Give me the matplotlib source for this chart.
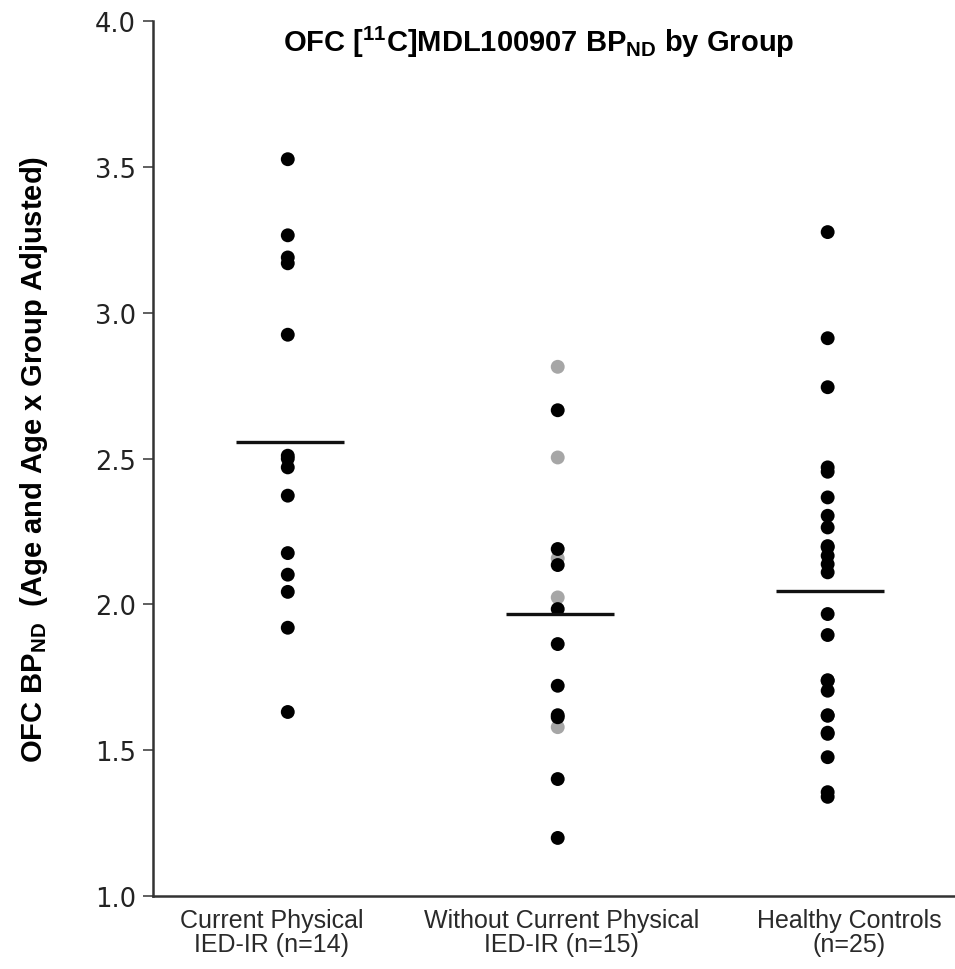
import matplotlib
matplotlib.use("Agg")
import matplotlib.pyplot as plt
import numpy as np

plt.rcParams['font.family'] = ['Liberation Sans', 'DejaVu Sans']
plt.rcParams['mathtext.fontset'] = 'custom'
plt.rcParams['mathtext.rm'] = 'Liberation Sans'
plt.rcParams['mathtext.bf'] = 'Liberation Sans:bold'

groups = ["Current Physical\nIED-IR (n=14)",
          "Without Current Physical\nIED-IR (n=15)",
          "Healthy Controls\n(n=25)"]

g1_black = [3.527, 3.266, 3.19, 3.17, 2.925, 2.51, 2.50, 2.47, 2.373, 2.176,
            2.102, 2.043, 1.920, 1.631]
g1_gray = []
g2_black = [2.666, 2.190, 2.135, 1.984, 1.864, 1.721, 1.613, 1.62, 1.401, 1.199]
g2_gray = [2.815, 2.504, 2.158, 2.024, 1.579]
g3_black = [3.277, 2.913, 2.745, 2.47, 2.455, 2.367, 2.304, 2.264, 2.196, 2.20,
            2.167, 2.138, 2.110, 1.967, 1.895, 1.738, 1.74, 1.704, 1.618, 1.62,
            1.556, 1.56, 1.476, 1.356, 1.340]
g3_gray = []

group_means = [2.558, 1.966, 2.047]

yticks = [1.0, 1.5, 2.0, 2.5, 3.0, 3.5, 4.0]

black_sets = [g1_black, g2_black, g3_black]
gray_sets = [g1_gray, g2_gray, g3_gray]

fig = plt.figure(figsize=(9.55, 9.70), dpi=100)
ax = fig.add_axes([0.160, 0.0753, 0.848, 0.9017])

for i, (gs, bs) in enumerate(zip(gray_sets, black_sets)):
    if gs:
        ax.scatter(np.full(len(gs), i), gs, s=100, color='#a6a6a6',
                   edgecolors='none', zorder=3)
    ax.scatter(np.full(len(bs), i), bs, s=100, color='black',
               edgecolors='none', zorder=4)
    ax.hlines(group_means[i], i - 0.19, i + 0.21, color='#111111',
              linewidth=2.4, zorder=5)

ax.set_xlim(-0.5, 2.5)
ax.set_ylim(1.0, 4.0)
ax.set_yticks(yticks)
ax.set_yticklabels([f"{t:.1f}" for t in yticks], fontsize=18.5, family='DejaVu Sans',
                   color='#222222')
# category labels (invisible ticks), slightly spread as in the original layout
label_offsets = [-0.06, 0.015, 0.08]
ax.set_xticks([i + o for i, o in enumerate(label_offsets)])
ax.set_xticklabels(groups, fontsize=18, color='#2a2a2a', linespacing=0.95)
ax.tick_params(axis='x', length=0, pad=9)
ax.tick_params(axis='y', length=7, width=1.2, color='#444444', pad=5)

for s in ['top', 'right']:
    ax.spines[s].set_visible(False)
for s in ['left', 'bottom']:
    ax.spines[s].set_color('#333333')
    ax.spines[s].set_linewidth(1.8)

fig.text(539 / 955, 1 - 52 / 970,
         r'OFC [$^{\mathbf{11}}$C]MDL100907 BP$_{\mathbf{ND}}$ by Group',
         fontsize=21, fontweight='bold', ha='center', va='baseline')
ax.set_ylabel(r'OFC BP$_{\mathbf{ND}}$  (Age and Age x Group Adjusted)',
              fontsize=21, fontweight='bold')
ax.yaxis.set_label_coords(-103 / 810, 0.5)

fig.savefig("out.png", dpi=100)
